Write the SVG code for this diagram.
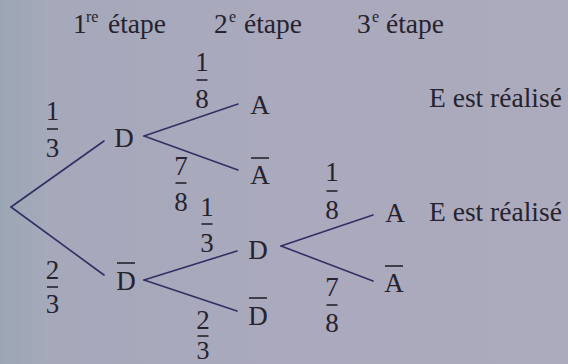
<svg xmlns="http://www.w3.org/2000/svg" width="568" height="364" viewBox="0 0 568 364">
<defs>
<style>
.bar{stroke:#26232e;stroke-width:1.6}
.edge{stroke:#332f63;stroke-width:1.6;fill:none;stroke-linecap:round}
</style>
<linearGradient id="bg" x1="0" y1="0" x2="1" y2="0">
<stop offset="0" stop-color="#9ba6b5"/>
<stop offset="0.08" stop-color="#a5a9ba"/>
<stop offset="0.5" stop-color="#aaa9bd"/>
<stop offset="1" stop-color="#acabbd"/>
</linearGradient>
</defs>
<rect width="568" height="364" fill="url(#bg)"/>

<g id="headers" font-family="Liberation Serif" font-size="27.5" fill="#26232e">
<text x="73" y="33">1</text><text x="86" y="22" font-size="16">re</text><text x="108" y="33">étape</text>
<text x="214" y="33">2</text><text x="229" y="22" font-size="16">e</text><text x="244" y="33">étape</text>
<text x="357" y="33">3</text><text x="372" y="22" font-size="16">e</text><text x="386" y="33">étape</text>
</g>

<g id="connectors">
<line class="edge" x1="11" y1="207" x2="104" y2="141"/>
<line class="edge" x1="11" y1="207" x2="104" y2="275"/>
<line class="edge" x1="144" y1="136" x2="238" y2="104"/>
<line class="edge" x1="144" y1="136" x2="238" y2="170"/>
<line class="edge" x1="144" y1="280" x2="237" y2="251"/>
<line class="edge" x1="144" y1="280" x2="237" y2="311"/>
<line class="edge" x1="281" y1="246" x2="373" y2="215"/>
<line class="edge" x1="281" y1="246" x2="373" y2="281"/>
</g>

<g font-family="Liberation Serif" font-size="27" fill="#26232e" text-anchor="middle">
<g id="node-D1"><text x="124" y="147">D</text></g>
<g id="node-Dbar1"><text x="126" y="290">D</text><line class="bar" x1="117" y1="263" x2="135" y2="263"/></g>
<g id="node-A1"><text x="260" y="114">A</text></g>
<g id="node-Abar1"><text x="260" y="184">A</text><line class="bar" x1="251" y1="158" x2="269" y2="158"/></g>
<g id="node-D2"><text x="258" y="259">D</text></g>
<g id="node-Dbar2"><text x="258" y="325">D</text><line class="bar" x1="249" y1="298" x2="267" y2="298"/></g>
<g id="node-A2"><text x="395" y="222">A</text></g>
<g id="node-Abar2"><text x="394" y="292">A</text><line class="bar" x1="385" y1="266" x2="403" y2="266"/></g>
</g>

<g font-family="Liberation Serif" font-size="27.5" fill="#26232e">
<g id="label-E1"><text x="429" y="107">E est réalisé</text></g>
<g id="label-E2"><text x="429" y="221">E est réalisé</text></g>
</g>

<g id="fractions" font-family="Liberation Serif" font-size="27" fill="#26232e" text-anchor="middle">
<text x="52.5" y="120">1</text><line class="bar" x1="47" y1="129" x2="58" y2="129"/><text x="52.5" y="157">3</text>
<text x="52.5" y="279">2</text><line class="bar" x1="47" y1="287" x2="58" y2="287"/><text x="52.5" y="313">3</text>
<text x="202" y="71">1</text><line class="bar" x1="196.5" y1="80" x2="207.5" y2="80"/><text x="202" y="108">8</text>
<text x="181" y="175">7</text><line class="bar" x1="175.5" y1="183" x2="186.5" y2="183"/><text x="181" y="211">8</text>
<text x="207" y="216">1</text><line class="bar" x1="201.5" y1="224" x2="212.5" y2="224"/><text x="207" y="252">3</text>
<text x="203" y="329">2</text><line class="bar" x1="197.5" y1="336" x2="208.5" y2="336"/><text x="203" y="359" font-size="26">3</text>
<text x="332" y="181">1</text><line class="bar" x1="326.5" y1="191" x2="337.5" y2="191"/><text x="332" y="219">8</text>
<text x="332" y="296">7</text><line class="bar" x1="326.5" y1="305" x2="337.5" y2="305"/><text x="332" y="332">8</text>
</g>
</svg>
